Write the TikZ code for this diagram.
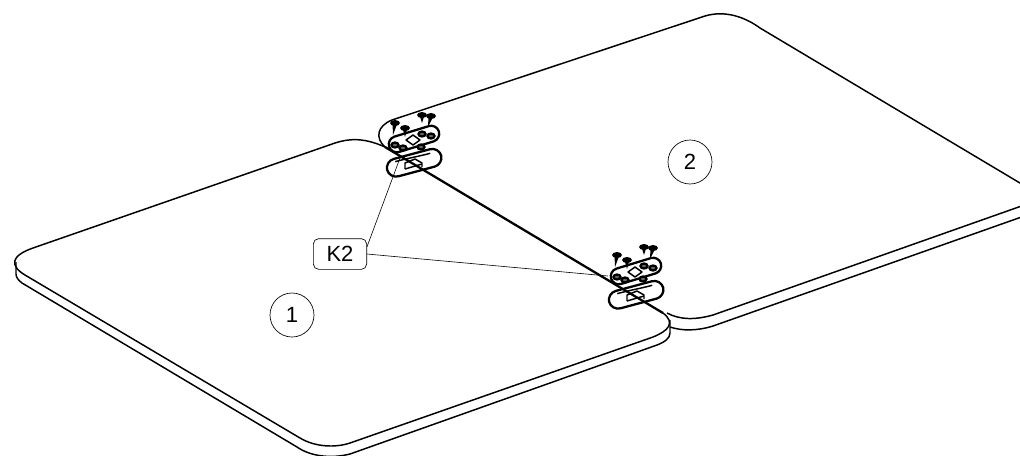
\documentclass[tikz,border=0pt]{standalone}
\usepackage{fontspec}
\setmainfont{Liberation Sans}
\tikzset{
    edge/.style = {line width=1.1pt, line join=round},
    heavy/.style = {line width=1.7pt},
    leader/.style = {line width=0.45pt},
    tag/.style = {draw, line width=0.5pt, font=\fontsize{16.5}{18}\selectfont},
    main/.style = {tag, circle, minimum size=33pt, inner sep=0pt},
    callout/.style = {tag, rounded corners=4pt, minimum width=40pt, minimum height=23pt, inner sep=0pt},
    bracket/.pic = {
        %plate
        \draw[heavy, rotate=17, rounded corners=6pt] (-26,-8) rectangle (26,8);
        \draw[edge, fill=white] (-1,-4) -- (6,1) -- (-1,6) -- (-8,1) -- cycle;
        \foreach \px/\py in {-19/6, -11/9, 8/-5, 17/-3, 7/8}
            \draw[heavy, fill=black!60] (\px,\py) ellipse (3.5 and 2.5);
        %screws
        \foreach \sx/\sy/\tx/\ty in {-19/-16/-21/-4, -9/-11/-9/-2, 8/-24/8/-16, 17/-23/14/-12} {
            \fill (\sx,\sy) ellipse (5 and 3);
            \fill (\sx-2.5,\sy) -- (\sx+2.5,\sy) -- (\tx,\ty) -- cycle;
        }
        %slot below
        \draw[heavy, rotate=15, rounded corners=7pt] (-34,14) rectangle (22,32);
        \draw[edge, rotate=15] (-24,17) .. controls (-10,17) and (0,18) .. (12,18);
        \draw[edge] (-9,30) -- (-9,24) -- (1,20) -- (8,24) -- (8,28);
        \draw[edge] (-9,30) -- (8,25);
    }
}
\begin{document}
\begin{tikzpicture}[x=0.75pt, y=-0.75pt]
    \clip (0,0) rectangle (1020,455);
    %panel 2
    \draw[edge] (385,147) .. controls (375,138) and (377,126) .. (392,120) -- (705,16)
        .. controls (725,10) and (745,17) .. (760,28) -- (1030,189);
    \draw[edge] (1030,203) -- (713,315) .. controls (695,320) and (680,320) .. (667,313);
    \draw[edge] (1030,214) -- (713,326) .. controls (697,331) and (682,331) .. (670,327);
    %panel 1
    \draw[edge] (385,147) .. controls (365,138) and (350,138) .. (335,143) -- (33,248)
        .. controls (10,256) and (10,266) .. (25,275) -- (300,438)
        .. controls (315,447) and (335,448) .. (350,443) -- (653,337)
        .. controls (668,331) and (676,323) .. (663,313);
    \draw[edge] (16,262) -- (16,274) .. controls (16,277) and (18,280) .. (22,283) -- (297,447)
        .. controls (310,456) and (330,459) .. (350,454) -- (657,345)
        .. controls (665,342) and (670,338) .. (670,333) -- (670,320);
    \draw[heavy] (385,147) -- (663,313);
    %fasteners
    \pic at (414,139) {bracket};
    \pic at (636,271) {bracket};
    %labels
    \node[main] (one) at (292,315) {1};
    \node[main] (two) at (690,162) {2};
    \node[callout] (k2) at (340,254) {K2};
    \coordinate (tipa) at (400,158);
    \coordinate (tipb) at (608,276);
    \draw[leader] (k2.15) to (tipa);
    \draw[leader] (k2.east) to (tipb);
\end{tikzpicture}
\end{document}
